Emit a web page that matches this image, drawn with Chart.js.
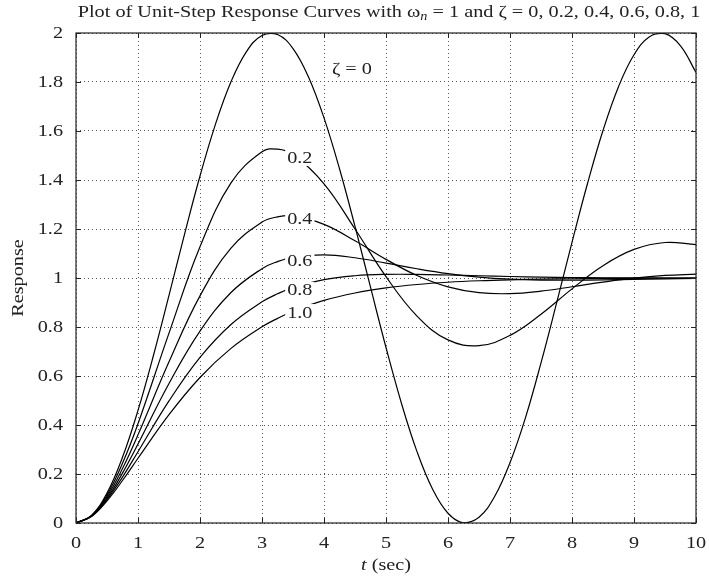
<!DOCTYPE html>
<html>
<head>
<meta charset="utf-8">
<script src="https://cdn.jsdelivr.net/npm/chart.js@4.4.1/dist/chart.umd.min.js"></script>
<style>
  body { margin: 0; background: #fff; }
</style>
</head>
<body>
<canvas id="stepChart" width="709" height="581"></canvas>
<script>
// time axis (sec)
const timesFine = [0, 0.25, 0.5, 0.75, 1, 1.25, 1.5, 1.75, 2, 2.25, 2.5, 2.75, 3, 3.25, 3.5, 3.75, 4, 4.25, 4.5, 4.75,
  5, 5.25, 5.5, 5.75, 6, 6.25, 6.5, 6.75, 7, 7.25, 7.5, 7.75, 8, 8.25, 8.5, 8.75, 9, 9.25, 9.5, 9.75, 10];
const times = [0, 0.25, 0.5, 0.75, 1, 1.5, 2, 2.5, 3, 3.25, 3.5, 4, 4.5, 5, 5.5, 6, 6.5, 7, 7.5, 8, 8.5, 9, 9.5, 10];

// zeta = 0 (read on the fine time grid)
const respZeta0 = [0, 0.0311, 0.1224, 0.2683, 0.4597, 0.6847, 0.9293, 1.1783, 1.4162, 1.6282, 1.8011, 1.9243, 1.9900,
  1.9941, 1.9365, 1.8206, 1.6536, 1.4460, 1.2108, 0.9624, 0.7163, 0.4879, 0.2913, 0.1388, 0.0398, 0.0006, 0.0234,
  0.1070, 0.2461, 0.4303, 0.6534, 0.8962, 1.1455, 1.3857, 1.6020, 1.7808, 1.9111, 1.9848, 1.9972, 1.9476, 1.8391];
// the damped ones, on the coarser grid
const respZeta02 = [0, 0.0301, 0.1147, 0.2436, 0.4050, 0.7748, 1.1275, 1.3880, 1.5151, 1.5261, 1.5049, 1.3845, 1.2001,
  1.0055, 0.8446, 0.7473, 0.7237, 0.7657, 0.8521, 0.9556, 1.0503, 1.1166, 1.1450, 1.1361];
const respZeta04 = [0, 0.0291, 0.1077, 0.2223, 0.3599, 0.6582, 0.9271, 1.1221, 1.2281, 1.2496, 1.2532, 1.2189, 1.1517,
  1.0761, 1.0100, 0.9637, 0.9400, 0.9362, 0.9465, 0.9643, 0.9833, 0.9995, 1.0104, 1.0157];
const respZeta06 = [0, 0.0282, 0.1013, 0.2037, 0.3224, 0.5695, 0.7830, 0.9407, 1.0381, 1.0669, 1.0846, 1.0945, 1.0826,
  1.0608, 1.0377, 1.0180, 1.0039, 0.9955, 0.9917, 0.9911, 0.9924, 0.9946, 0.9967, 0.9985];
const respZeta08 = [0, 0.0273, 0.0955, 0.1875, 0.2909, 0.4982, 0.6759, 0.8104, 0.9028, 0.9355, 0.9607, 0.9933, 1.0091,
  1.0147, 1.0147, 1.0122, 1.0091, 1.0061, 1.0038, 1.0021, 1.0010, 1.0003, 1.0000, 0.9998];
const respZeta1 = [0, 0.0265, 0.0902, 0.1734, 0.2642, 0.4422, 0.5940, 0.7127, 0.8009, 0.8352, 0.8641, 0.9084, 0.9389,
  0.9596, 0.9734, 0.9826, 0.9887, 0.9927, 0.9953, 0.9970, 0.9981, 0.9988, 0.9992, 0.9995];

const xTicks = [0, 1, 2, 3, 4, 5, 6, 7, 8, 9, 10];
const xTickLabels = ['0', '1', '2', '3', '4', '5', '6', '7', '8', '9', '10'];
const yTicks = [0, 0.2, 0.4, 0.6, 0.8, 1, 1.2, 1.4, 1.6, 1.8, 2];
const yTickLabels = ['0', '0.2', '0.4', '0.6', '0.8', '1', '1.2', '1.4', '1.6', '1.8', '2'];

// curve labels and where they sit (data coords)
const curveLabels = ['\u03B6 = 0', '0.2', '0.4', '0.6', '0.8', '1.0'];
const labelT = [4.45, 3.61, 3.61, 3.61, 3.61, 3.61];
const labelR = [1.857, 1.49, 1.241, 1.073, 0.951, 0.861];

const serif = '"Liberation Serif", "DejaVu Serif", serif';
const textColor = '#222';
const stretch = 1.19; // the source type is a bit wider than Times

function toPoints(ts, ys) {
  return ts.map((t, i) => ({ x: t, y: ys[i] }));
}

function curve(ts, ys) {
  return {
    data: toPoints(ts, ys),
    borderColor: '#000',
    borderWidth: 1.2,
    pointRadius: 0,
    fill: false,
    tension: 0.4
  };
}

// text drawn a little wider than the font gives
function wideText(ctx, parts, cx, cy, align, angle) {
  // parts: [[text, font, dy], ...]
  let total = 0;
  parts.forEach(p => { ctx.font = p[1]; total += ctx.measureText(p[0]).width; });
  ctx.save();
  ctx.translate(cx, cy);
  if (angle) ctx.rotate(angle);
  ctx.scale(stretch, 1);
  ctx.textBaseline = 'middle';
  ctx.textAlign = 'left';
  let x0 = align === 'right' ? -total : align === 'center' ? -total / 2 : 0;
  parts.forEach(p => {
    ctx.font = p[1];
    ctx.fillText(p[0], x0, p[2] || 0);
    x0 += ctx.measureText(p[0]).width;
  });
  ctx.restore();
  return total * stretch;
}

const mainFont = '17px ' + serif;

const decorPlugin = {
  id: 'decor',
  afterDatasetsDraw(chart) {
    const { ctx, scales: { x, y } } = chart;
    ctx.save();
    curveLabels.forEach((txt, i) => {
      const px = x.getPixelForValue(labelT[i]);
      const py = y.getPixelForValue(labelR[i]);
      ctx.font = mainFont;
      const w = ctx.measureText(txt).width * stretch;
      ctx.fillStyle = '#fff';
      ctx.fillRect(px - w / 2 - 2, py - 8, w + 4, 16);
      ctx.fillStyle = textColor;
      wideText(ctx, [[txt, mainFont, 1]], px, py, 'center');
    });
    ctx.restore();
  },
  afterDraw(chart) {
    const { ctx, chartArea: a, scales: { x, y } } = chart;
    ctx.save();
    // box + inward ticks
    ctx.strokeStyle = '#222';
    ctx.lineWidth = 1.2;
    ctx.strokeRect(a.left, a.top, a.right - a.left, a.bottom - a.top);
    ctx.lineWidth = 1;
    ctx.beginPath();
    xTicks.forEach(v => {
      const px = Math.round(x.getPixelForValue(v)) + 0.5;
      ctx.moveTo(px, a.bottom); ctx.lineTo(px, a.bottom - 5);
      ctx.moveTo(px, a.top); ctx.lineTo(px, a.top + 5);
    });
    yTicks.forEach(v => {
      const py = Math.round(y.getPixelForValue(v)) + 0.5;
      ctx.moveTo(a.left, py); ctx.lineTo(a.left + 5, py);
      ctx.moveTo(a.right, py); ctx.lineTo(a.right - 5, py);
    });
    ctx.stroke();

    ctx.fillStyle = textColor;
    // tick labels
    xTicks.forEach((v, i) => {
      wideText(ctx, [[xTickLabels[i], mainFont, 1]], x.getPixelForValue(v), a.bottom + 20, 'center');
    });
    yTicks.forEach((v, i) => {
      wideText(ctx, [[yTickLabels[i], mainFont, 1]], a.left - 13, y.getPixelForValue(v), 'right');
    });

    // title with italic subscript n
    wideText(ctx, [
      ['Plot of Unit-Step Response Curves with \u03C9', mainFont, 0],
      ['n', 'italic 12px ' + serif, 4],
      [' = 1 and \u03B6 = 0, 0.2, 0.4, 0.6, 0.8, 1', mainFont, 0]
    ], (a.left + a.right) / 2 + 3, 13, 'center');

    // axis titles
    wideText(ctx, [['t', 'italic ' + mainFont, 0], [' (sec)', mainFont, 0]], (a.left + a.right) / 2, 566, 'center');
    wideText(ctx, [['Response', mainFont, 0]], 19, (a.top + a.bottom) / 2, 'center', -Math.PI / 2);
    ctx.restore();
  }
};

new Chart(document.getElementById('stepChart').getContext('2d'), {
  type: 'line',
  data: {
    datasets: [
      curve(timesFine, respZeta0),
      curve(times, respZeta02),
      curve(times, respZeta04),
      curve(times, respZeta06),
      curve(times, respZeta08),
      curve(times, respZeta1)
    ]
  },
  options: {
    responsive: false,
    animation: false,
    devicePixelRatio: 1,
    layout: { padding: { left: 76, right: 13, top: 33, bottom: 58 } },
    plugins: {
      legend: { display: false },
      tooltip: { enabled: false },
      title: { display: false }
    },
    scales: {
      x: {
        type: 'linear',
        min: 0,
        max: 10,
        afterBuildTicks: axis => { axis.ticks = xTicks.map(v => ({ value: v })); },
        ticks: { display: false },
        grid: { color: '#555', lineWidth: 1, drawTicks: false },
        border: { display: false, dash: [1, 3] }
      },
      y: {
        type: 'linear',
        min: 0,
        max: 2,
        afterBuildTicks: axis => { axis.ticks = yTicks.map(v => ({ value: v })); },
        ticks: { display: false },
        grid: { color: '#555', lineWidth: 1, drawTicks: false },
        border: { display: false, dash: [1, 3] }
      }
    }
  },
  plugins: [decorPlugin]
});
</script>
</body>
</html>
